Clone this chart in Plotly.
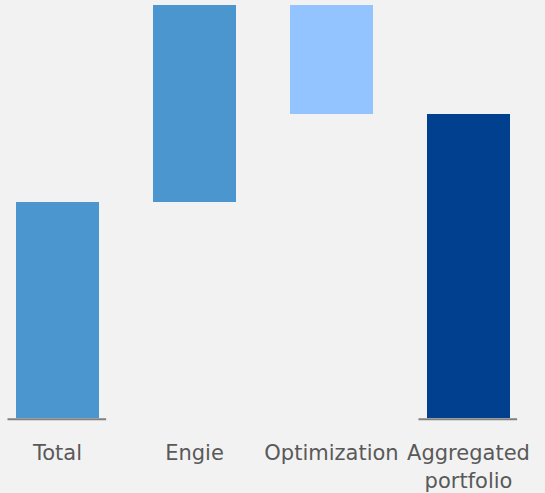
import plotly.graph_objects as go

categories = ["Total", "Engie", "Optimization", "Aggregated<br>portfolio"]
measures = ["absolute", "relative", "relative", "total"]
values = [7.1, 6.5, -3.6, 10.0]
colors = ["#4b96cf", "#4b96cf", "#94c4ff", "#00408f"]

# compute bases (waterfall logic)
bases, heights = [], []
running = 0.0
for m, v in zip(measures, values):
    if m == "absolute":
        bases.append(0.0); heights.append(v); running = v
    elif m == "relative":
        bases.append(running); heights.append(v); running += v
    else:
        bases.append(0.0); heights.append(running)

xs = list(range(len(categories)))
k = 30.37  # px per unit
zero_px = 418
pad_px = 3
ymin = -pad_px / k
ymax = zero_px / k

fig = go.Figure()
fig.add_trace(go.Bar(x=xs, y=heights, base=bases, marker=dict(color=colors, line=dict(width=0)),
                     width=0.606, hoverinfo="skip"))

shapes = []
for i, m in enumerate(measures):
    if m in ("absolute", "total"):
        shapes.append(dict(type="line", xref="x", yref="y", x0=i - 0.365, x1=i + 0.355,
                           y0=-1.3 / k, y1=-1.3 / k, line=dict(color="#808080", width=2)))

r0 = -57.5 / 137
fig.update_layout(
    width=545, height=493,
    margin=dict(l=0, r=0, t=0, b=493 - zero_px - pad_px),
    paper_bgcolor="#f2f2f2", plot_bgcolor="#f2f2f2",
    showlegend=False, bargap=0,
    shapes=shapes,
    xaxis=dict(range=[r0, r0 + 545 / 137], tickmode="array", tickvals=xs, ticktext=categories,
               showgrid=False, zeroline=False, showline=False,
               ticks="outside", ticklen=13, tickcolor="rgba(0,0,0,0)",
               tickfont=dict(family="DejaVu Sans", size=21, color="#595959")),
    yaxis=dict(range=[ymin, ymax], visible=False, showgrid=False, zeroline=False),
)
fig.write_html("out.html")
